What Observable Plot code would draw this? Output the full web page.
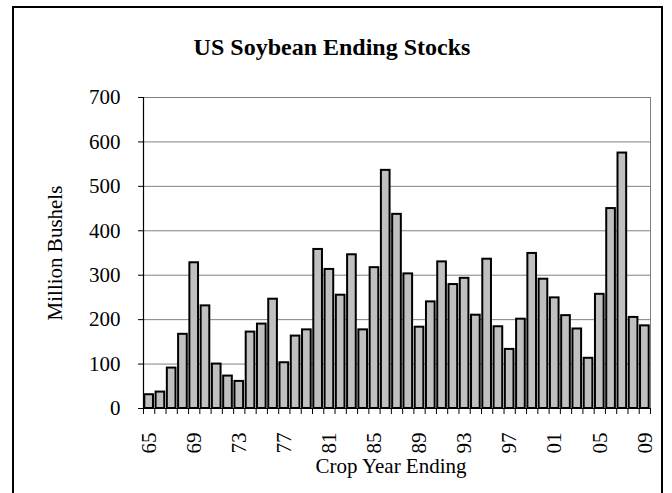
<!DOCTYPE html>
<html>
<head>
<meta charset="utf-8">
<script src="https://cdn.jsdelivr.net/npm/d3@7"></script>
<script src="https://cdn.jsdelivr.net/npm/@observablehq/plot@0.6"></script>
<style>
  html, body { margin: 0; padding: 0; background: #fff; }
  #wrap { position: relative; width: 672px; height: 493px; overflow: hidden; background: #fff; }
  #border { position: absolute; left: 12px; top: 6px; width: 651px; height: 520px; border: 2px solid #000; box-sizing: border-box; }
  #title { position: absolute; left: 0; width: 664px; top: 32px; text-align: center;
           font-family: "Liberation Serif", "Times New Roman", serif; font-weight: bold; font-size: 24px; line-height: 30px; color: #000; }
  #chart { position: absolute; left: 0; top: 0; }
</style>
</head>
<body>
<div id="wrap">
  <div id="border"></div>
  <div id="title">US Soybean Ending Stocks</div>
  <div id="chart"></div>
</div>
<script>
const years = [1965,1966,1967,1968,1969,1970,1971,1972,1973,1974,
               1975,1976,1977,1978,1979,1980,1981,1982,1983,1984,
               1985,1986,1987,1988,1989,1990,1991,1992,1993,1994,
               1995,1996,1997,1998,1999,2000,2001,2002,2003,2004,
               2005,2006,2007,2008,2009];
const stocks = [31,37,91,167,328,231,100,73,61,172,
                190,246,103,163,177,358,313,255,346,177,
                317,536,437,303,183,240,330,279,293,210,
                336,184,133,201,349,291,249,209,179,113,
                257,450,575,205,186];
const labelYears = [1965,1969,1973,1977,1981,1985,1989,1993,1997,2001,2005,2009];
const labelText = ["65","69","73","77","81","85","89","93","97","01","05","09"];
const yTicks = [0,100,200,300,400,500,600,700];
const yTitle = "Million Bushels";
const xTitle = "Crop Year Ending";

const data = years.map((year, i) => ({year, value: stocks[i]}));
const boundaries = years.map(y => y - 0.5).concat([years[years.length - 1] + 0.5]);
const xMin = years[0] - 0.5, xMax = years[years.length - 1] + 0.5;

const chart = Plot.plot({
  width: 672,
  height: 493,
  marginTop: 97,
  marginBottom: 85,
  marginLeft: 143,
  marginRight: 22,
  x: {domain: [xMin, xMax]},
  y: {domain: [0, 700]},
  style: {fontFamily: "'Liberation Serif', 'Times New Roman', serif", fontSize: "21px", color: "#000", background: "transparent", overflow: "visible"},
  marks: [
    Plot.gridY(yTicks, {stroke: "#808080", strokeOpacity: 1, strokeWidth: 1}),
    Plot.ruleX([xMax], {stroke: "#808080", strokeWidth: 1}),
    Plot.rectY(data, {x1: d => d.year - 0.5, x2: d => d.year + 0.5, y: "value",
      insetLeft: 1.3, insetRight: 1.3, fill: "#c0c0c0", stroke: "#000", strokeWidth: 2}),
    Plot.ruleX([xMin], {stroke: "#000", strokeWidth: 1.2}),
    Plot.ruleY([0], {stroke: "#000", strokeWidth: 1.2}),
    Plot.axisY({ticks: yTicks, tickSize: 5, tickPadding: 18, label: null, fontSize: 21}),
    Plot.axisX({ticks: boundaries, tickSize: 6, tickFormat: () => "", label: null}),
    Plot.axisX({ticks: labelYears, tickSize: 0, tickPadding: 24, tickRotate: -90,
      tickFormat: d => labelText[labelYears.indexOf(d)], label: null, fontSize: 21}),
    Plot.text([yTitle], {frameAnchor: "left", dx: -88, rotate: -90, textAnchor: "middle", lineAnchor: "middle", fontSize: 21}),
    Plot.text([xTitle], {frameAnchor: "bottom", dx: -6, dy: 58, textAnchor: "middle", lineAnchor: "middle", fontSize: 21})
  ]
});
document.getElementById("chart").appendChild(chart);
</script>
</body>
</html>
